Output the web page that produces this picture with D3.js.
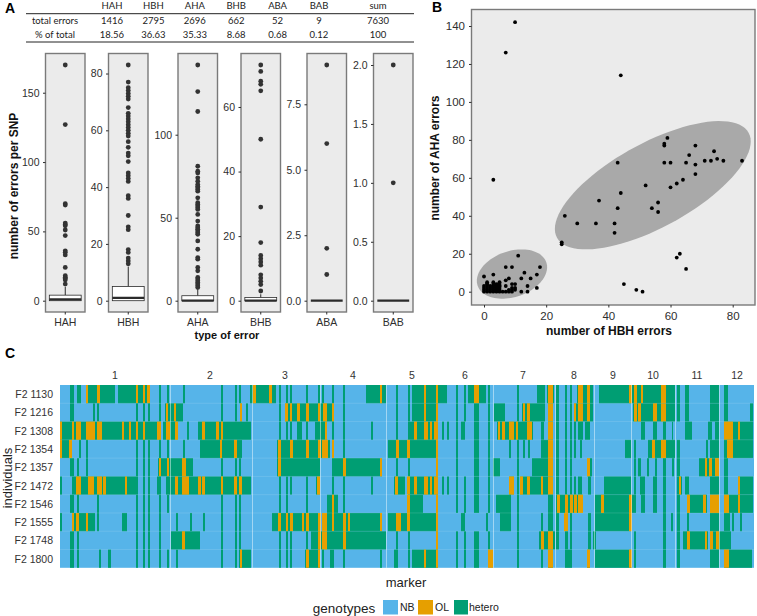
<!DOCTYPE html>
<html><head><meta charset="utf-8">
<script src="https://cdn.jsdelivr.net/npm/d3@7"></script>
<style>html,body{margin:0;background:#fff}svg{display:block}text{font-family:"Liberation Sans",Arial,sans-serif}</style>
</head><body><svg id="c" width="757" height="616"></svg>
<script>
// ---------- table ----------
const tableCols = ["HAH","HBH","AHA","BHB","ABA","BAB","sum"];
const totalErrors = ["1416","2795","2696","662","52","9","7630"];
const pctTotal = ["18.56","36.63","35.33","8.68","0.68","0.12","100"];
// ---------- panel A : boxplots ----------
const errorTypes = ["HAH","HBH","AHA","BHB","ABA","BAB"];
const outHAH = [170,127,70,69,56,55,54,51,47,36,35,33,24,18,17,16,15,12];
const outHBH = [83,77,75,74,73,72,71,68,66,65,64,63,62,61,60,59,58,56,54,52,51,49,45,44,43,42,37,36,30,26,25,18,17,15,14,13];
const outAHA = [142,126,114,81,78,77,74,72,70,69,68,67,66,62,59,58,57,56,55,52,48,45,44,43,42,41,40,36,31,26,25,20,18,14,13,12,11,10,9,8];
const outBHB = [73,71,68,67,65,50,29,18,14,13,12,11,8,7,6,5,3];
const outABA = [9,6,2,1];
const outBAB = [2,1];
const boxHAH = [0,1,4,10];
const boxHBH = [0,1,5,12];
const boxAHA = [0,0,3,7];
const boxBHB = [0,0,1,2];
const boxABA = [0,0,0,0];
const boxBAB = [0,0,0,0];
const ticksHAH = [0,50,100,150], ticksHBH=[0,20,40,60,80], ticksAHA=[0,50,100], ticksBHB=[0,20,40,60], ticksABA=[0,2.5,5,7.5], ticksBAB=[0,.5,1,1.5,2];
const maxima = [170,83,142,73,9,2];
// ---------- panel B : scatter ----------
const hbhErrors = [10,7,44,59,58,58,68,74,66,75,71,73,77,83,43,58,60,65,68,68,64,3,52,60,62,44,37,56,54,43,56,26,30,36,42,42,25,25,63,62,65,45,49,51,
 11,7,9,18,13,17,3,0,12,8,15,7,1,3,5,1,5,9,10,7,14,17,12,14,
 0,1,2,3,4,5,6,7,8,9,0,1,2,3,4,5,8,9,10,0,1,2,3,4,5,9,0,1,2,3,4,5,10,1,3,4,5];
const ahaErrors = [142,126,114,81,78,77,77,74,72,70,69,69,69,69,68,68,68,68,67,62,59,59,56,55,57,52,48,47,44,44,42,40,36,36,36,31,26,25,20,18,12,4,1,0,
 19,13,13,13,10,9,9,8,7,7,7,6,5,5,5,4,4,4,4,3,3,2,0,0,
 0,0,0,0,0,0,0,0,0,0,1,1,1,1,1,1,1,1,1,2,2,2,2,2,2,2,3,3,3,3,3,3,2,4,4,4,3];
const ellipseLarge = {cx:54.3, cy:56.1, a:31.5, b:33.8, phi:47};
const ellipseSmall = {cx:9.0, cy:9.3, a:11.3, b:13.0, phi:74};
const ellipseTheta = d3.range(0,361,4);
// ---------- panel C : heatmap (marker index ranges) ----------
const individuals = ["F2 1130","F2 1216","F2 1308","F2 1354","F2 1357","F2 1472","F2 1546","F2 1555","F2 1748","F2 1800"];
const chromosomes = ["1","2","3","4","5","6","7","8","9","10","11","12"];
const chromCentres = [55,150,225,293,352,405,463,514,553,593,637,677];
const chromGaps = [110,192,260,326,433,495,534,571,615,659];
const nMarkers = 694;
const hetero1130 = [[10,14],[17,21],[26,55],[58,90],[99,101],[107,109],[123,125],[161,163],[175,177],[179,181],[190,216],[219,221],[226,228],[230,232],[246,248],[258,260],[262,264],[272,274],[283,285],[306,326],[336,338],[348,350],[352,387],[396,398],[404,406],[408,426],[428,430],[457,459],[477,485],[487,494],[496,499],[505,507],[510,512],[517,533],[539,615],[617,620],[625,629],[650,659],[664,668]];
const ol1130 = [[26,28],[37,40],[76,78],[83,85],[87,90],[193,196],[209,212],[320,322],[364,366],[376,378],[414,419],[488,493],[518,523],[527,530],[569,572],[574,577],[581,583],[601,606]];
const hetero1216 = [[10,14],[33,35],[37,39],[76,78],[83,85],[88,90],[99,101],[105,123],[161,163],[175,177],[180,182],[186,188],[219,221],[225,274],[283,285],[336,338],[348,350],[352,378],[396,398],[404,406],[414,419],[428,430],[434,445],[457,459],[462,485],[488,493],[496,499],[505,507],[510,512],[514,533],[573,615],[617,620],[625,629],[650,659],[664,668],[690,693]];
const ol1216 = [[106,108],[114,116],[180,182],[225,228],[230,232],[237,240],[246,249],[258,260],[263,267],[272,274],[364,366],[376,378],[463,465],[467,470],[488,493],[514,516],[518,523],[527,530],[574,577],[578,581],[593,597],[601,606]];
const hetero1308 = [[0,101],[103,118],[127,129],[138,191],[219,221],[226,228],[230,232],[237,242],[246,248],[255,267],[272,274],[283,285],[311,313],[336,338],[348,376],[382,384],[387,389],[396,398],[401,405],[414,419],[428,430],[437,473],[481,484],[488,493],[496,499],[505,507],[510,512],[514,516],[518,523],[525,530],[581,585],[593,597],[603,606],[612,613],[625,632],[648,652],[655,659],[664,693]];
const ol1308 = [[0,2],[12,14],[16,21],[26,35],[37,42],[62,64],[69,71],[76,78],[83,85],[97,101],[106,110],[115,118],[142,145],[156,159],[161,163],[265,267],[354,357],[364,368],[370,372],[374,378],[438,440],[442,445],[449,454],[456,458],[467,472],[488,493],[664,673],[678,680]];
const hetero1354 = [[0,12],[19,21],[26,28],[76,78],[83,85],[88,90],[99,101],[107,109],[123,125],[140,182],[217,270],[272,274],[283,285],[328,378],[396,398],[414,419],[428,430],[449,451],[457,459],[463,465],[468,470],[481,493],[496,499],[505,507],[510,512],[514,516],[520,522],[565,571],[574,576],[588,615],[617,620],[646,648],[650,659],[664,693]];
const ol1354 = [[0,2],[9,12],[160,162],[174,177],[218,221],[230,233],[246,249],[258,261],[262,268],[272,274],[336,339],[347,350],[376,378],[488,493],[592,595],[601,606],[667,673]];
const hetero1357 = [[10,14],[17,19],[26,28],[76,78],[83,85],[88,90],[98,133],[161,163],[175,177],[179,181],[217,260],[272,322],[336,338],[348,350],[376,378],[396,398],[414,419],[428,430],[433,440],[457,459],[472,493],[496,499],[505,507],[510,512],[527,532],[574,576],[578,581],[587,589],[595,597],[603,606],[612,614],[617,620],[639,659],[664,668]];
const ol1357 = [[99,101],[107,109],[122,126],[218,221],[283,286],[320,322],[376,378],[488,493],[527,530],[645,647],[649,652],[655,659]];
const hetero1472 = [[0,2],[12,78],[83,85],[88,90],[97,101],[106,191],[219,221],[226,228],[230,232],[246,248],[256,260],[272,274],[283,285],[311,313],[334,345],[348,378],[382,384],[387,389],[396,398],[404,406],[414,419],[428,430],[449,454],[457,459],[460,493],[496,499],[505,507],[510,512],[514,516],[518,522],[528,531],[544,571],[574,576],[580,585],[593,597],[603,606],[617,622],[625,629],[650,659],[664,668],[678,693]];
const ol1472 = [[16,21],[28,34],[37,42],[43,46],[65,67],[115,118],[122,129],[138,141],[142,145],[161,163],[174,177],[179,182],[257,260],[335,338],[347,350],[354,357],[364,368],[370,372],[374,378],[449,454],[460,463],[467,470],[481,483],[488,493],[619,621],[678,680]];
const hetero1546 = [[10,14],[17,19],[37,39],[76,78],[83,85],[88,90],[99,101],[107,109],[161,163],[175,177],[179,181],[219,221],[226,228],[246,248],[267,278],[283,285],[348,363],[376,378],[396,398],[404,406],[414,419],[428,430],[436,451],[457,459],[488,493],[496,523],[535,576],[581,585],[593,597],[603,606],[617,620],[627,647],[650,659],[664,693]];
const ol1546 = [[272,274],[347,350],[376,378],[497,500],[505,508],[510,513],[514,517],[518,523],[541,544],[569,572],[627,630],[643,646],[650,659],[664,669],[678,680]];
const hetero1555 = [[0,2],[12,35],[37,39],[62,67],[76,78],[83,85],[88,90],[99,101],[116,118],[130,132],[143,145],[161,163],[175,177],[179,181],[212,260],[262,322],[328,378],[401,405],[426,428],[440,451],[457,459],[481,483],[488,493],[496,499],[510,512],[528,531],[535,571],[603,606],[611,613],[617,620],[627,629],[650,659],[664,670],[672,674],[680,682]];
const ol1555 = [[12,14],[16,19],[26,28],[218,221],[226,228],[230,233],[242,244],[246,249],[258,261],[262,267],[272,274],[283,286],[288,290],[320,322],[336,341],[347,350],[376,378],[504,508],[569,572]];
const hetero1748 = [[10,14],[17,19],[76,78],[83,85],[88,90],[99,101],[111,140],[161,163],[175,177],[179,181],[219,221],[226,228],[230,232],[246,248],[251,326],[336,338],[348,350],[376,378],[396,398],[404,406],[414,419],[428,430],[457,459],[479,495],[496,499],[505,508],[510,512],[528,531],[533,536],[574,576],[603,606],[617,620],[623,648],[650,671]];
const ol1748 = [[122,125],[258,261],[262,267],[283,286],[376,378],[481,484],[488,493],[627,630],[645,647],[650,653],[656,659]];
const hetero1800 = [[10,14],[17,19],[39,41],[48,51],[76,78],[83,85],[88,90],[99,101],[107,109],[116,118],[161,163],[175,177],[179,191],[219,221],[226,228],[230,232],[245,260],[262,264],[270,274],[283,285],[320,322],[334,338],[348,350],[352,378],[396,398],[404,406],[414,419],[457,459],[481,483],[488,493],[505,512],[527,530],[535,572],[574,576],[603,606],[617,620],[650,659],[664,692]];
const ol1800 = [[180,182],[246,249],[258,260],[364,366],[376,378],[428,433],[488,493],[527,530],[569,572],[664,669]];
const heteroRows = [hetero1130,hetero1216,hetero1308,hetero1354,hetero1357,hetero1472,hetero1546,hetero1555,hetero1748,hetero1800];
const olRows = [ol1130,ol1216,ol1308,ol1354,ol1357,ol1472,ol1546,ol1555,ol1748,ol1800];
const genotypes = ["NB","OL","hetero"];
const genoColors = ["#56B4E9","#E69F00","#009E73"];

const svg = d3.select("#c");
const INK="#2b2b2b", LAB="#2e2e2e";
function label(t,x,y,size,opt={}){
  const e=svg.append("text").attr("x",x).attr("y",y).attr("font-size",size).attr("fill",opt.fill||"#111")
    .attr("text-anchor",opt.anchor||"middle").attr("dominant-baseline","central")
    .attr("font-weight",opt.weight||"normal").text(t);
  if(opt.family) e.style("font-family",opt.family);
  if(opt.rot) e.attr("transform",`rotate(${opt.rot} ${x} ${y})`);
  return e;
}
label("A",10,8,14,{weight:"bold",fill:"#000"});
label("B",437,7,14,{weight:"bold",fill:"#000"});
label("C",10,353,14,{weight:"bold",fill:"#000"});

// table
const tx = d3.scaleLinear().domain([0,5]).range([112,319]);
const TF = "Lato, 'Open Sans', sans-serif";
tableCols.forEach((c,i)=>{
  const x = i<6?tx(i):378;
  label(c,x,5.5,9.5,{family:TF,fill:"#222"});
  label(totalErrors[i],x,20,9.5,{family:TF,fill:"#222"});
  label(pctTotal[i],x,34,9.5,{family:TF,fill:"#222"});
});
label("total errors",55,20,9.5,{family:TF,fill:"#222"});
label("% of total",55,34,9.5,{family:TF,fill:"#222"});
[13.7,42].forEach(y=>svg.append("line").attr("x1",26).attr("x2",414).attr("y1",y).attr("y2",y).attr("stroke","#222").attr("stroke-width",1));

// boxplots
const panelLefts=[45.5,108.5,178,241,307,373.5], panelW=39.5, pTop=53.5, pBot=312;
const outs=[outHAH,outHBH,outAHA,outBHB,outABA,outBAB];
const boxes=[boxHAH,boxHBH,boxAHA,boxBHB,boxABA,boxBAB];
const ticks=[ticksHAH,ticksHBH,ticksAHA,ticksBHB,ticksABA,ticksBAB];
const fmts=[d3.format("d"),d3.format("d"),d3.format("d"),d3.format("d"),d3.format(".1f"),d3.format(".1f")];
errorTypes.forEach((name,i)=>{
  const L=panelLefts[i];
  const maxV=maxima[i];
  const y=d3.scaleLinear().domain([0,maxV]).range([300.7,65]);
  const x=d3.scaleBand().domain([name]).range([L,L+panelW]).paddingInner(0).paddingOuter(0.12);
  const g=svg.append("g");
  g.append("rect").attr("x",L).attr("y",pTop).attr("width",panelW).attr("height",pBot-pTop).attr("fill","#ebebeb");
  const cx=x(name)+x.bandwidth()/2, bw=x.bandwidth();
  const [q1,med,q3,wh]=boxes[i];
  if(wh>q3) g.append("line").attr("x1",cx).attr("x2",cx).attr("y1",y(q3)).attr("y2",y(wh)).attr("stroke",INK).attr("stroke-width",1);
  g.append("rect").attr("x",cx-bw/2).attr("width",bw).attr("y",y(q3)).attr("height",Math.max(0,y(q1)-y(q3))).attr("fill","#fff").attr("stroke",INK).attr("stroke-width",.8);
  g.append("line").attr("x1",cx-bw/2).attr("x2",cx+bw/2).attr("y1",y(med)).attr("y2",y(med)).attr("stroke",INK).attr("stroke-width",2.2);
  g.selectAll("circle").data(outs[i]).join("circle").attr("cx",cx).attr("cy",d=>y(d)).attr("r",2.4).attr("fill","#333");
  g.append("rect").attr("x",L).attr("y",pTop).attr("width",panelW).attr("height",pBot-pTop).attr("fill","none").attr("stroke","#7a7a7a").attr("stroke-width",1.4);
  const ax=d3.axisLeft(y).tickValues(ticks[i]).tickFormat(fmts[i]).tickSize(2.5).tickPadding(3.5);
  const ag=svg.append("g").attr("transform",`translate(${L},0)`).call(ax);
  ag.select(".domain").remove();
  ag.selectAll("text").attr("font-size",10.5).attr("fill",LAB);
  ag.selectAll("line").attr("stroke",LAB);
  const bx=d3.axisBottom(x).tickSize(2.5).tickPadding(4);
  const bg=svg.append("g").attr("transform",`translate(0,${pBot})`).call(bx);
  bg.select(".domain").remove();
  bg.selectAll("text").attr("font-size",10.5).attr("fill",LAB);
  bg.selectAll("line").attr("stroke",LAB);
});
label("number of errors per SNP",14,186,12,{weight:"bold"  ,rot:-90});
label("type of error",227,335,11,{weight:"bold"});

// scatter
const sx=d3.scaleLinear().domain([0,80]).range([484,732.7]);
const sy=d3.scaleLinear().domain([0,140]).range([291.7,26]);
const B={l:471.5,r:755,t:9.5,b:305};
svg.append("rect").attr("x",B.l).attr("y",B.t).attr("width",B.r-B.l).attr("height",B.b-B.t).attr("fill","#ebebeb");
const ell=d3.line().x(d=>d[0]).y(d=>d[1]);
[ellipseLarge,ellipseSmall].forEach(e=>{
  const pts=ellipseTheta.map(t=>{const r=t*Math.PI/180;return [sx(e.cx+e.a*Math.cos(r)),sy(e.cy+e.b*Math.cos(r-e.phi*Math.PI/180))];});
  svg.append("path").attr("d",ell(pts)+"Z").attr("fill","#a9a9a9");
});
svg.append("g").selectAll("circle").data(hbhErrors).join("circle").attr("cx",d=>sx(d)).attr("cy",(d,i)=>sy(ahaErrors[i])).attr("r",1.9).attr("fill","#000");
svg.append("rect").attr("x",B.l).attr("y",B.t).attr("width",B.r-B.l).attr("height",B.b-B.t).attr("fill","none").attr("stroke","#7a7a7a").attr("stroke-width",1.4);
{
  const a1=svg.append("g").attr("transform",`translate(${B.l},0)`).call(d3.axisLeft(sy).tickValues([0,20,40,60,80,100,120,140]).tickSize(2.5).tickPadding(4));
  a1.select(".domain").remove();a1.selectAll("text").attr("font-size",11.5).attr("fill",LAB);a1.selectAll("line").attr("stroke",LAB);
  const a2=svg.append("g").attr("transform",`translate(0,${B.b})`).call(d3.axisBottom(sx).tickValues([0,20,40,60,80]).tickSize(2.5).tickPadding(4));
  a2.select(".domain").remove();a2.selectAll("text").attr("font-size",11.5).attr("fill",LAB);a2.selectAll("line").attr("stroke",LAB);
}
label("number of HBH errors",609,331,12,{weight:"bold"});
label("number of AHA errors",435,158,12,{weight:"bold",rot:-90});

// heatmap
const hx=d3.scaleLinear().domain([0,nMarkers]).range([60,754]);
const hy=d3.scaleBand().domain(individuals).range([385,567.8]);
svg.append("rect").attr("x",hx(0)).attr("y",hy.range()[0]).attr("width",hx(nMarkers)-hx(0)).attr("height",hy.range()[1]-hy.range()[0]).attr("fill",genoColors[0]);
individuals.forEach((ind,i)=>{
  const g=svg.append("g");
  const rect=(s,c)=>g.selectAll(null).data(s).join("rect").attr("x",d=>hx(d[0])).attr("width",d=>hx(d[1])-hx(d[0])).attr("y",hy(ind)).attr("height",hy.bandwidth()).attr("fill",c);
  rect(heteroRows[i],genoColors[2]);
  rect(olRows[i],genoColors[1]);
});
svg.append("g").selectAll("line").data(chromGaps).join("line").attr("x1",d=>hx(d)+.5).attr("x2",d=>hx(d)+.5).attr("y1",385).attr("y2",567.8).attr("stroke","#fff").attr("stroke-opacity",.45).attr("stroke-width",1);
svg.append("g").selectAll("line").data(individuals.slice(1)).join("line").attr("x1",60).attr("x2",754).attr("y1",d=>hy(d)).attr("y2",d=>hy(d)).attr("stroke","#fff").attr("stroke-opacity",.12);
individuals.forEach(ind=>label(ind,53,hy(ind)+hy.bandwidth()/2,10.5,{anchor:"end",fill:"#333"}));
chromosomes.forEach((c,i)=>label(c,hx(chromCentres[i]),374.5,10.5,{fill:"#333"}));
label("individuals",7,478,13,{rot:-90,fill:"#222"});
label("marker",406,582,13,{fill:"#222"});
// legend
label("genotypes",344,608,13.5,{fill:"#222"});
const legX=d3.scaleOrdinal().domain(genotypes).range([383,418,454]);
genotypes.forEach((gt,i)=>{
  svg.append("rect").attr("x",legX(gt)).attr("y",600).attr("width",gt==="hetero"?14:15).attr("height",14.5).attr("fill",genoColors[i]);
  label(gt,legX(gt)+(gt==="hetero"?15:17),607,10.5,{anchor:"start",fill:"#222"});
});
</script></body></html>
